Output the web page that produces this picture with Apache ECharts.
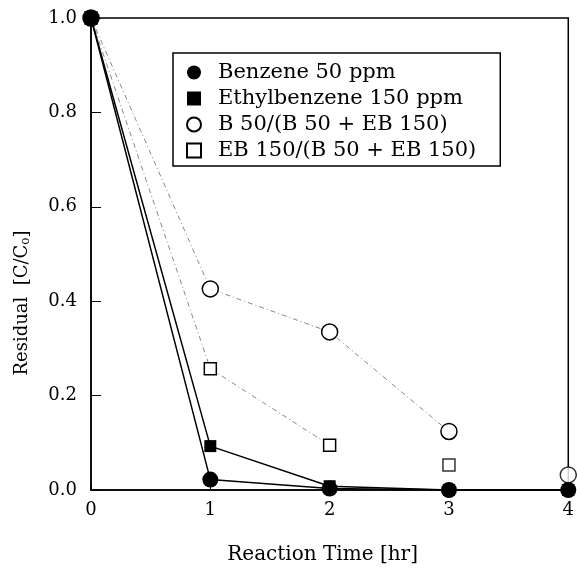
<!DOCTYPE html>
<html>
<head>
<meta charset="utf-8">
<script src="https://cdn.jsdelivr.net/npm/echarts@6/dist/echarts.min.js"></script>
<style>html,body{margin:0;padding:0;background:#fff}#c{width:577px;height:570px}</style>
</head>
<body>
<div id="c"></div>
<script>
var hours = [0, 1, 2, 3, 4];
var benzene = [1.0, 0.022, 0.003, 0.0, 0.0];
var ethylbenzene = [1.0, 0.093, 0.008, 0.0, 0.0];
var bMix = [1.0, 0.426, 0.335, 0.124, 0.032];
var ebMix = [1.0, 0.257, 0.095, 0.053, null];
var names = ['Benzene 50 ppm', 'Ethylbenzene 150 ppm', 'B 50/(B 50 + EB 150)', 'EB 150/(B 50 + EB 150)'];
var yTicks = [0, 0.2, 0.4, 0.6, 0.8, 1.0];
var xTicks = [0, 1, 2, 3, 4];

function pairs(xs, ys) { return xs.map(function (x, i) { return [x, ys[i]]; }); }

var font = 'DejaVu Serif';
var chart = echarts.init(document.getElementById('c'), null, {renderer: 'canvas'});
var dashDot = [5, 3, 1, 3];
var option = {
  animation: false,
  backgroundColor: '#fff',
  textStyle: {fontFamily: font, color: '#000'},
  grid: {left: 91, right: 5, top: 18, bottom: 78, show: true, borderColor: '#000', borderWidth: 1.5, backgroundColor: 'transparent'},
  xAxis: {
    type: 'value', min: xTicks[0], max: xTicks[xTicks.length - 1], interval: 1,
    axisLine: {lineStyle: {color: '#000', width: 1.5}},
    axisTick: {inside: true, length: 5, lineStyle: {color: '#000'}},
    axisLabel: {fontFamily: font, fontSize: 18, color: '#000', margin: 11},
    splitLine: {show: false},
    name: 'Reaction Time [hr]', nameLocation: 'middle', nameGap: 55,
    nameTextStyle: {fontFamily: font, fontSize: 20, color: '#000', padding: [0, 14, 0, 0]}
  },
  yAxis: {
    type: 'value', min: yTicks[0], max: yTicks[yTicks.length - 1], interval: 0.2,
    axisLine: {lineStyle: {color: '#000', width: 1.5}},
    axisTick: {inside: true, length: 10, lineStyle: {color: '#000'}},
    axisLabel: {fontFamily: font, fontSize: 18, color: '#000', margin: 14, formatter: function (v) { return v.toFixed(1); }},
    splitLine: {show: false}
  },
  legend: {
    orient: 'vertical', left: 173, top: 53, width: 330,
    padding: [9, 24, 5, 13], itemGap: 5, itemWidth: 14, itemHeight: 14,
    borderColor: '#000', borderWidth: 1.5, backgroundColor: '#fff',
    textStyle: {fontFamily: font, fontSize: 21, lineHeight: 20, color: '#000', padding: [0, 0, 0, 12]},
    data: [
      {name: names[0], icon: 'circle'},
      {name: names[1], icon: 'rect'},
      {name: names[2], icon: 'circle'},
      {name: names[3], icon: 'rect'}
    ]
  },
  series: [
    {
      name: names[0], type: 'line', z: 5, data: pairs(hours, benzene),
      symbol: 'circle', symbolSize: 16,
      itemStyle: {color: '#000'}, lineStyle: {color: '#000', width: 1.5}
    },
    {
      name: names[1], type: 'line', z: 4, data: pairs(hours, ethylbenzene),
      symbol: 'rect', symbolSize: 12,
      itemStyle: {color: '#000'}, lineStyle: {color: '#000', width: 1.5}
    },
    {
      name: names[2], type: 'line', z: 3, data: pairs(hours, bMix).slice(0, 4),
      symbol: 'circle', symbolSize: 16,
      itemStyle: {color: '#fff', borderColor: '#000', borderWidth: 1.5},
      lineStyle: {color: '#888', width: 1, type: dashDot}
    },
    {
      name: names[2], type: 'scatter', z: 3, data: pairs(hours, bMix).slice(4),
      symbol: 'circle', symbolSize: 16,
      itemStyle: {color: '#fff', borderColor: '#000', borderWidth: 1.5}
    },
    {
      name: names[3], type: 'line', z: 3, data: pairs(hours, ebMix).slice(0, 3),
      symbol: 'rect', symbolSize: 12,
      itemStyle: {color: '#fff', borderColor: '#000', borderWidth: 1.5},
      lineStyle: {color: '#888', width: 1, type: dashDot}
    },
    {
      name: names[3], type: 'scatter', z: 3, data: pairs(hours, ebMix).slice(3, 4),
      symbol: 'rect', symbolSize: 12,
      itemStyle: {color: '#fff', borderColor: '#000', borderWidth: 1.5}
    }
  ],
  graphic: [{
    type: 'text', x: 22, y: 303, rotation: Math.PI / 2,
    style: {
      text: '{a|Residual  [C/C}{s|o}{a|]}',
      align: 'center', verticalAlign: 'middle',
      rich: {
        a: {fontFamily: font, fontSize: 18, fill: '#000'},
        s: {fontFamily: font, fontSize: 12, fill: '#000', padding: [8, 0, 0, 0]}
      }
    }
  }]
};
chart.setOption(option);
</script>
</body>
</html>
